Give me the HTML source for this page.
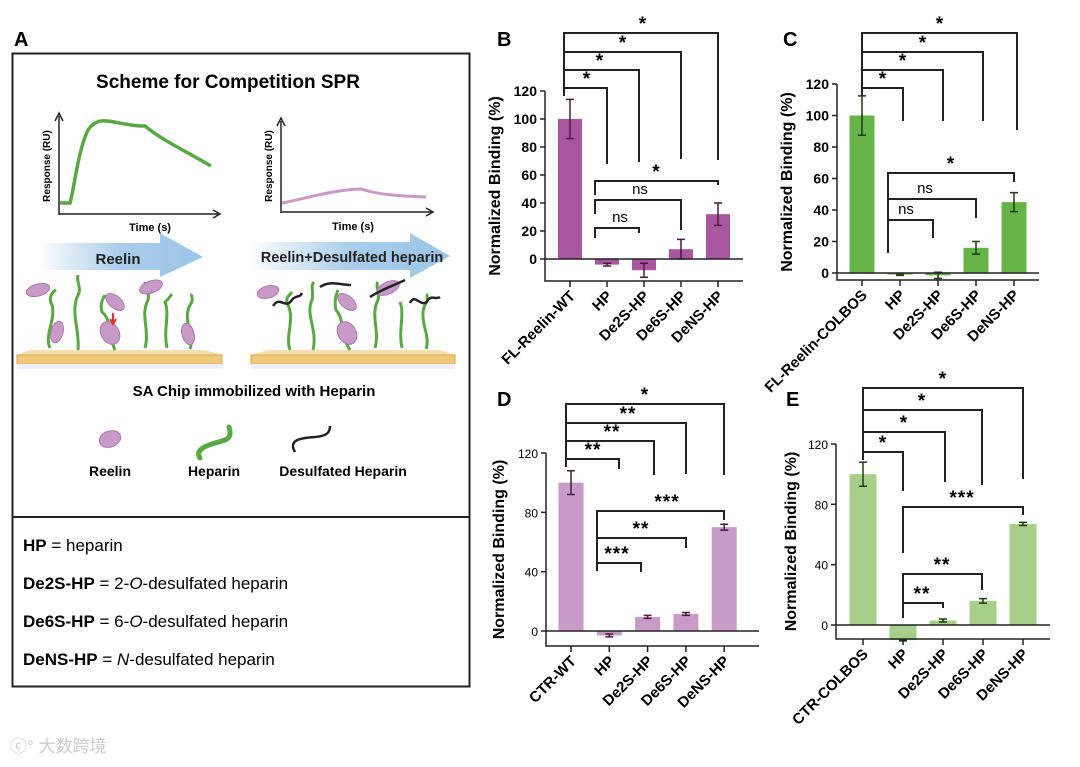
<!DOCTYPE html>
<html><head><meta charset="utf-8"><style>
body{margin:0;background:#fff;}
svg{display:block;font-family:"Liberation Sans","Noto Sans CJK SC",sans-serif;}
</style></head><body>
<svg id="fig" width="1080" height="767" viewBox="0 0 1080 767">
<!-- Panel A -->
<g>
<text x="14" y="46" font-size="20" font-weight="bold">A</text>
<rect x="12.5" y="53.5" width="457" height="633" fill="none" stroke="#222" stroke-width="2"/>
<line x1="12" y1="517" x2="470" y2="517" stroke="#222" stroke-width="2"/>
<text x="228" y="88" font-size="19" font-weight="bold" text-anchor="middle">Scheme for Competition SPR</text>
<g>
<path d="M59,215 V116 M55,121 L59,113 L63,121 M59,214 H218 M213,210 L220,214 L213,218" stroke="#222" stroke-width="1.5" fill="none"/>
<path d="M60,203 H70 C74,190 78,150 88,130 C100,112 115,126 145,126 C162,140 180,148 211,166" stroke="#5aa844" stroke-width="3.5" fill="none"/>
<text x="50" y="166" font-size="10" font-weight="bold" transform="rotate(-90 50 166)" text-anchor="middle">Response (RU)</text>
<text x="150" y="231" font-size="11" font-weight="bold" text-anchor="middle">Time (s)</text>
</g>
<g>
<path d="M281,213 V121 M277,126 L281,118 L285,126 M281,212 H431 M426,208 L433,212 L426,216" stroke="#222" stroke-width="1.5" fill="none"/>
<path d="M282,203 C300,200 330,190 361,189 C380,195 400,196 426,197" stroke="#c79ac7" stroke-width="3" fill="none"/>
<text x="272" y="166" font-size="10" font-weight="bold" transform="rotate(-90 272 166)" text-anchor="middle">Response (RU)</text>
<text x="353" y="230" font-size="11" font-weight="bold" text-anchor="middle">Time (s)</text>
</g>
<defs><linearGradient id="arr" x1="0" x2="1"><stop offset="0" stop-color="#fff"/><stop offset="0.5" stop-color="#a9cdea"/><stop offset="1" stop-color="#9cc5e8"/></linearGradient></defs>
<path d="M38,243 H160 V233 L203,257 L160,277 V270 H38 Z" fill="url(#arr)"/>
<text x="118" y="264" font-size="15" font-weight="bold" text-anchor="middle" fill="#222">Reelin</text>
<path d="M250,242 H410 V233 L450,256 L410,278 V270 H250 Z" fill="url(#arr)"/>
<text x="352" y="262" font-size="14.5" font-weight="bold" text-anchor="middle" fill="#222">Reelin+Desulfated heparin</text>
<g>
<path d="M17,355 L30,350 H205 L222,355 Z" fill="#f6dfae"/><rect x="17" y="355" width="205" height="9" fill="#f1c97a" stroke="#d9a84a"/><rect x="17" y="364" width="205" height="5" fill="#eef"/>
<g stroke="#5aa844" stroke-width="3" fill="none"><path d="M50,348 C44,335 56,320 52,305 C48,298 52,292 56,290"/><path d="M78,350 C80,330 70,312 78,295 C82,288 76,282 78,275"/><path d="M115,350 C108,335 112,320 102,312 C100,305 102,300 105,295"/><path d="M145,348 C150,330 140,315 148,300 C150,292 145,285 145,282"/><path d="M167,348 C163,330 170,315 165,302 C170,298 170,296 172,294"/><path d="M190,349 C195,335 182,320 190,305 C195,298 190,296 192,294"/></g>
<g fill="#c79ac7" stroke="#a87aa8"><ellipse cx="38" cy="290" rx="12" ry="6" transform="rotate(-15 38 290)"/><ellipse cx="115" cy="302" rx="11" ry="6" transform="rotate(40 115 302)"/><ellipse cx="151" cy="287" rx="12" ry="6" transform="rotate(-20 151 287)"/><ellipse cx="57" cy="332" rx="6" ry="11" transform="rotate(15 57 332)"/><ellipse cx="110" cy="333" rx="9" ry="12" transform="rotate(-30 110 333)"/><ellipse cx="188" cy="334" rx="6" ry="11" transform="rotate(-15 188 334)"/></g>
<path d="M113,313 V322 M110,319 L113,324 L116,319" stroke="#d33" stroke-width="2" fill="none"/>
</g>
<g>
<path d="M251,355 L268,350 H440 L455,355 Z" fill="#f6dfae"/><rect x="251" y="355" width="204" height="9" fill="#f1c97a" stroke="#d9a84a"/><rect x="251" y="364" width="204" height="5" fill="#eef"/>
<g stroke="#5aa844" stroke-width="3" fill="none"><path d="M290,350 C285,335 295,320 288,305 C284,298 290,295 292,292"/><path d="M313,350 C318,330 305,315 312,300 C314,292 310,286 314,282"/><path d="M350,350 C340,335 345,320 336,310 C334,300 336,295 338,290"/><path d="M375,348 C380,330 370,315 378,300 C380,292 375,285 378,282"/><path d="M402,348 C398,330 405,315 400,302"/><path d="M426,349 C431,335 418,320 425,305 C430,298 425,296 428,294"/></g>
<g fill="#c79ac7" stroke="#a87aa8"><ellipse cx="268" cy="292" rx="11" ry="6" transform="rotate(-15 268 292)"/><ellipse cx="347" cy="302" rx="11" ry="6" transform="rotate(40 347 302)"/><ellipse cx="388" cy="288" rx="12" ry="6" transform="rotate(-25 388 288)"/><ellipse cx="347" cy="333" rx="9" ry="12" transform="rotate(-30 347 333)"/></g>
<g stroke="#222" stroke-width="2.5" fill="none"><path d="M273,306 C280,295 285,310 292,300 C295,295 300,298 302,293"/><path d="M320,287 C330,280 340,285 351,285"/><path d="M370,297 C380,290 395,285 405,280"/><path d="M410,303 C415,292 422,310 428,300 C432,295 436,300 440,297"/></g>
</g>
<text x="254" y="396" font-size="15" font-weight="bold" text-anchor="middle">SA Chip immobilized with Heparin</text>
<ellipse cx="110" cy="439" rx="11" ry="8" transform="rotate(-20 110 439)" fill="#c79ac7" stroke="#a87aa8"/>
<path d="M200,458 C195,450 205,446 215,443 C225,440 233,440 229,427" stroke="#5aa844" stroke-width="5" fill="none" stroke-linecap="round"/>
<path d="M295,452 C288,440 300,438 315,437 C325,436 330,434 330,426" stroke="#222" stroke-width="2.5" fill="none"/>
<text x="110" y="476" font-size="14" font-weight="bold" text-anchor="middle">Reelin</text>
<text x="214" y="476" font-size="14" font-weight="bold" text-anchor="middle">Heparin</text>
<text x="343" y="476" font-size="14" font-weight="bold" text-anchor="middle">Desulfated Heparin</text>
<g font-size="17">
<text x="23" y="551"><tspan font-weight="bold">HP</tspan> =  heparin</text>
<text x="23" y="589"><tspan font-weight="bold">De2S-HP</tspan> =  2-<tspan font-style="italic">O</tspan>-desulfated heparin</text>
<text x="23" y="627"><tspan font-weight="bold">De6S-HP</tspan> =  6-<tspan font-style="italic">O</tspan>-desulfated heparin</text>
<text x="23" y="665"><tspan font-weight="bold">DeNS-HP</tspan> =  <tspan font-style="italic">N</tspan>-desulfated heparin</text>
</g>
</g>
<text x="10" y="752" font-size="17" fill="#ccc">ⓒ° 大数跨境</text>
</svg>
<script>
// ---- data ----
const categoriesB = ["FL-Reelin-WT","HP","De2S-HP","De6S-HP","DeNS-HP"];
const valuesB = [100,-4,-8,7,32];
const errorsB = [14,1,5,7,8];
const categoriesC = ["FL-Reelin-COLBOS","HP","De2S-HP","De6S-HP","DeNS-HP"];
const valuesC = [100,-1,-1.5,16,45];
const errorsC = [12.5,0.5,2,4,6];
const categoriesD = ["CTR-WT","HP","De2S-HP","De6S-HP","DeNS-HP"];
const valuesD = [100,-3,9.5,11.5,70];
const errorsD = [8,1,1,1,2];
const categoriesE = ["CTR-COLBOS","HP","De2S-HP","De6S-HP","DeNS-HP"];
const valuesE = [100,-10,3,16,67];
const errorsE = [8,0.5,1,1.5,1];
const ticksBC = [0,20,40,60,80,100,120];
const ticksDE = [0,40,80,120];
const sigB = ["*","*","*","*","*","ns","ns"];
const sigC = ["*","*","*","*","*","ns","ns"];
const sigD = ["**","**","**","*","***","**","***"];
const sigE = ["*","*","*","*","***","**","**"];

const NS="http://www.w3.org/2000/svg", svg=document.getElementById('fig');
function el(tag,attrs,parent){const e=document.createElementNS(NS,tag);for(const k in attrs)e.setAttribute(k,attrs[k]);(parent||svg).appendChild(e);return e;}

function panel(cfg,cats,vals,errs,ticks,sigs){
  const g=el('g',{});
  
  
  const y=v=>cfg.y0-(v/cfg.yMax)*(cfg.y0-cfg.yTop);
  const xc=i=>cfg.x1+i*cfg.step;
  const lbl=el('text',{x:cfg.labelX,y:cfg.labelY,'font-size':20,'font-weight':'bold'},g);lbl.textContent=cfg.letter;
  
  
  // bars
  vals.forEach((v,i)=>{
    const r=el('rect',{x:xc(i)-cfg.bw/2,y:Math.min(y(v),y(0)),width:cfg.bw,height:Math.abs(y(v)-y(0)),fill:cfg.color},g);
    
    
    const e=errs[i],t=y(v+e),b=y(v-e);
    const eb=el('path',{d:`M${xc(i)},${t}V${b}M${xc(i)-4},${t}H${xc(i)+4}M${xc(i)-4},${b}H${xc(i)+4}`,stroke:cfg.errColor,'stroke-width':1.5,fill:'none'},g);
    
    
  });
  // axes
  const ax=el('path',{d:`M${cfg.axX},${y(ticks[ticks.length-1])}V${cfg.yBot}H${cfg.axEnd}M${cfg.axX},${y(0)}H${cfg.axEnd}`,stroke:'#222','stroke-width':1.5,fill:'none'},g);
  
  
  ticks.forEach(t=>{
    el('line',{x1:cfg.axX-5,x2:cfg.axX,y1:y(t),y2:y(t),stroke:'#222','stroke-width':1.5},g);
    const tx=el('text',{x:cfg.axX-8,y:y(t)+5,'font-size':cfg.tickFs,'font-weight':cfg.tickW,'text-anchor':'end'},g);
    tx.textContent=t;
    
    
  });
  cats.forEach((c,i)=>{
    el('line',{x1:xc(i),x2:xc(i),y1:cfg.yBot,y2:cfg.yBot+6,stroke:'#222','stroke-width':1.5},g);
    const tx=el('text',{x:xc(i)+6,y:cfg.yBot+16,'font-size':15,'font-weight':'bold','text-anchor':'end',transform:`rotate(-45 ${xc(i)+6} ${cfg.yBot+16})`},g);
    tx.textContent=c;
    
    
  });
  const yt=el('text',{x:cfg.titleX,y:(y(ticks[ticks.length-1])+cfg.yBot)/2,'font-size':16,'font-weight':'bold','text-anchor':'middle',transform:`rotate(-90 ${cfg.titleX} ${(y(ticks[ticks.length-1])+cfg.yBot)/2})`},g);
  yt.textContent=cfg.title;
  
  
  // brackets
  cfg.br.forEach((b,k)=>{
    const [xa,xb,yy,la,lb]=b;
    const p=el('path',{d:`M${xa},${la}V${yy}H${xb}V${lb}`,stroke:'#222','stroke-width':2,fill:'none'},g);
    
    
    const s=sigs[k], st=s==='ns';
    const tx=el('text',{x:b[5]!==undefined?b[5]:(xa+xb)/2,y:yy-(st?6:3),'font-size':st?15:19,'font-weight':st?'normal':'bold','text-anchor':'middle','letter-spacing':st?0:1},g);
    tx.textContent=s;
    
    
  });
}

panel({name:'panel-b',letter:'B',labelX:497,labelY:46,color:'#a8579f',errColor:'#4a1a40',y0:259,yTop:91,yMax:120,yBot:281,axX:545,axEnd:743,x1:570,step:37,bw:24,tickFs:14,tickW:'bold',titleX:500,title:'Normalized Binding (%)',
 br:[[564,607,88,96,164,587],[564,639,70,96,162,600],[564,681,52,96,159,623],[564,718,33,96,160,643],[595,718,181,195,185],[595,681,200,214,230,640],[595,639,228,238,233,620]]},categoriesB,valuesB,errorsB,ticksBC,sigB);
panel({name:'panel-c',letter:'C',labelX:783,labelY:46,color:'#66b447',errColor:'#1f3a10',y0:273,yTop:84,yMax:120,yBot:280,axX:837,axEnd:1039,x1:862,step:38,bw:25,tickFs:14,tickW:'bold',titleX:792,title:'Normalized Binding (%)',
 br:[[862,903,88,96,121,883],[862,943,70,96,121,903],[862,983,52,96,121,923],[862,1017,33,96,130,940],[888,1014,173,253,182],[888,976,199,253,218,925],[888,933,220,253,238,906]]},categoriesC,valuesC,errorsC,ticksBC,sigC);
panel({name:'panel-d',letter:'D',labelX:497,labelY:406,color:'#c79ac7',errColor:'#4a1a40',y0:631,yTop:453,yMax:120,yBot:646,axX:546,axEnd:759,x1:571,step:38.3,bw:25,tickFs:12,tickW:'normal',titleX:504,title:'Normalized  Binding (%)',
 br:[[566,619,459,467,469,593],[566,654,441,467,475,612],[566,686,423,467,474,628],[566,724,404,467,475,645],[597,724,511,571,520,667],[597,686,538,571,548,641],[597,641,563,571,572,617]]},categoriesD,valuesD,errorsD,ticksDE,sigD);
panel({name:'panel-e',letter:'E',labelX:786,labelY:406,color:'#a8cf8a',errColor:'#1f3a10',y0:625,yTop:444,yMax:120,yBot:639,axX:836,axEnd:1050,x1:863,step:40,bw:27,tickFs:12,tickW:'normal',titleX:796,title:'Normalized  Binding (%)',
 br:[[863,903,452,460,491,883],[863,945,432,460,482,904],[863,982,410,460,485,922],[863,1023,388,460,479,943],[903,1023,507,553,515,962],[903,982,574,618,590,942],[903,943,603,618,608,922]]},categoriesE,valuesE,errorsE,ticksDE,sigE);
</script>
</body></html>
